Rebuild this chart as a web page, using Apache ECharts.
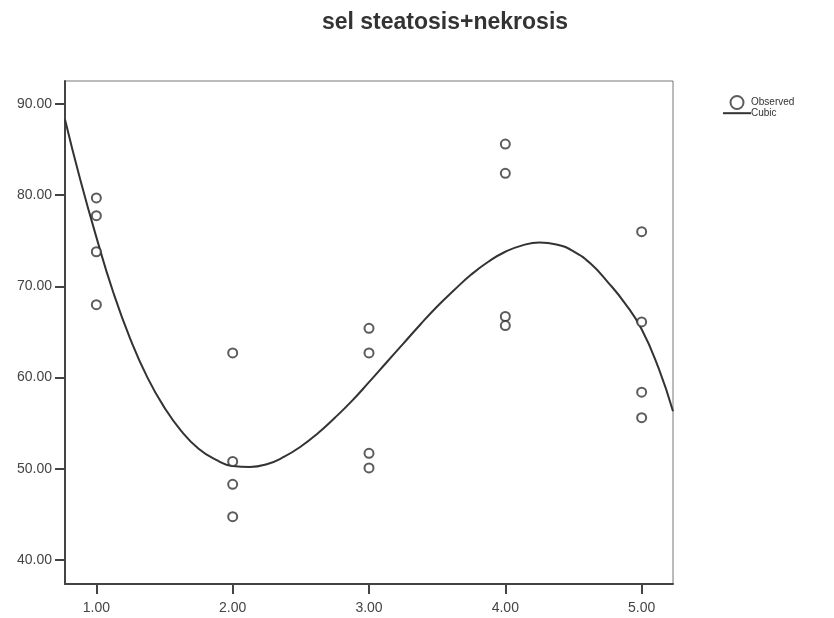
<!DOCTYPE html>
<html><head><meta charset="utf-8">
<script src="https://cdn.jsdelivr.net/npm/echarts@6/dist/echarts.min.js"></script>
<style>html,body{margin:0;padding:0;background:#fff}#c{width:834px;height:618px}</style>
</head><body><div id="c"></div>
<script>
const chartTitle = 'sel steatosis+nekrosis';
const seriesNames = ['Observed', 'Cubic'];
const obsX = [1, 1, 1, 1, 2, 2, 2, 2, 3, 3, 3, 3, 4, 4, 4, 4, 5, 5, 5, 5];
const obsY = [79.7, 77.75, 73.8, 68.0, 62.7, 50.8, 48.3, 44.75, 65.4, 62.7, 51.7, 50.1, 85.6, 82.4, 66.7, 65.7, 76.0, 66.1, 58.4, 55.6];
const cubicX = [0.77, 0.875, 1.0, 1.125, 1.25, 1.375, 1.5, 1.625, 1.75, 1.875, 2.0, 2.125, 2.25, 2.375, 2.5, 2.625, 2.75, 2.875,
  3.0, 3.125, 3.25, 3.375, 3.5, 3.625, 3.75, 3.875, 4.0, 4.125, 4.25, 4.375, 4.5, 4.625, 4.75, 4.875, 5.0, 5.125, 5.23];
const cubicY = [88.3, 82.1, 75.4, 69.3, 64.2, 60.0, 56.7, 54.1, 52.2, 51.0, 50.3, 50.2, 50.5, 51.3, 52.45, 53.9, 55.6, 57.45,
  59.5, 61.6, 63.7, 65.8, 67.8, 69.6, 71.3, 72.7, 73.8, 74.5, 74.8, 74.6, 73.85, 72.5, 70.5, 68.2, 65.3, 61.0, 56.3];
const xTicks = [1, 2, 3, 4, 5];
const yTicks = [40, 50, 60, 70, 80, 90];

const chart = echarts.init(document.getElementById('c'), null, {renderer: 'canvas'});
const ink = '#333';
const font = 'Liberation Sans, Arial, sans-serif';
chart.setOption({
  backgroundColor: '#fff',
  animation: false,
  title: {
    text: chartTitle, left: 440, top: 6, textAlign: 'center',
    textStyle: {fontFamily: font, fontWeight: 'bold', fontSize: 23, color: '#333'}
  },
  legend: {
    orient: 'vertical', left: 717, top: 90, itemWidth: 28, itemHeight: 13, itemGap: -2,
    textStyle: {fontFamily: font, fontSize: 10, color: '#333', padding: [0, 0, 0, -5]},
    data: [
      {name: seriesNames[0], icon: 'emptyCircle', itemStyle: {color: ink, borderColor: ink, borderWidth: 1.5}},
      {name: seriesNames[1], itemStyle: {opacity: 0}}
    ]
  },
  grid: {left: 65, top: 81, right: 161, bottom: 34, show: true, borderColor: '#777', borderWidth: 1, backgroundColor: '#fff'},
  xAxis: {
    type: 'value', min: 0.77, max: 5.23,
    axisLine: {show: true, onZero: false, lineStyle: {color: '#444', width: 2}},
    axisTick: {show: true, length: 10, customValues: xTicks, lineStyle: {color: '#444', width: 2}},
    axisLabel: {customValues: xTicks, margin: 17, formatter: v => v.toFixed(2),
      fontFamily: font, fontSize: 14, color: '#444'},
    splitLine: {show: false}
  },
  yAxis: {
    type: 'value', min: 37.37, max: 92.52,
    axisLine: {show: true, onZero: false, lineStyle: {color: '#444', width: 2}},
    axisTick: {show: true, length: 10, customValues: yTicks, lineStyle: {color: '#444', width: 2}},
    axisLabel: {customValues: yTicks, margin: 13, formatter: v => v.toFixed(2),
      fontFamily: font, fontSize: 14, color: '#444'},
    splitLine: {show: false}
  },
  series: [
    {
      name: seriesNames[0], type: 'scatter', symbol: 'circle', symbolSize: 9,
      itemStyle: {color: '#fff', borderColor: ink, borderWidth: 2},
      data: obsX.map((x, i) => [x, obsY[i]]), z: 3
    },
    {
      name: seriesNames[1], type: 'line', symbol: 'none', smooth: true,
      lineStyle: {color: ink, width: 2}, itemStyle: {color: ink},
      data: cubicX.map((x, i) => [x, cubicY[i]]), z: 2
    }
  ]
});
</script></body></html>
